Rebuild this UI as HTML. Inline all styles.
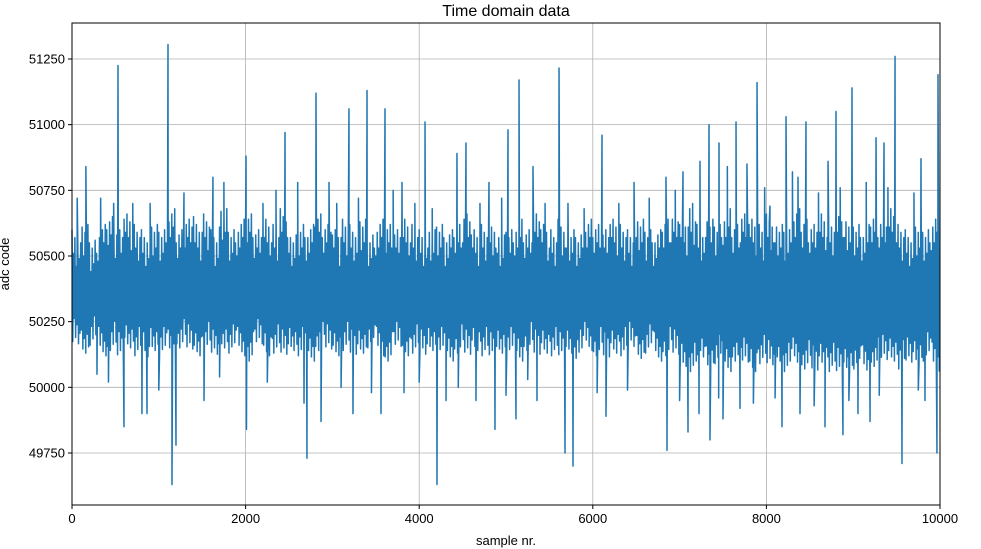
<!DOCTYPE html>
<html><head><meta charset="utf-8">
<style>
body{margin:0;background:#fff;}
svg{display:block;font-family:"Liberation Sans","DejaVu Sans",sans-serif;}
</style></head>
<body>
<svg id="chart" width="981" height="549">
<text x="506" y="16" text-anchor="middle" font-size="16">Time domain data</text>
<g id="grid"></g>
<g id="plot"></g>
<rect x="72" y="23" width="868" height="482" fill="none" stroke="#000" stroke-width="1"/>
<g id="axes"></g>
<text x="506" y="545" text-anchor="middle" font-size="13">sample nr.</text>
<text transform="translate(9,264) rotate(-90)" text-anchor="middle" font-size="13">adc code</text>
</svg>
<script>
const xTicks = [0, 2000, 4000, 6000, 8000, 10000];
const yTicks = [49750, 50000, 50250, 50500, 50750, 51000, 51250];
const binSize = 100;
const baseHigh = [50600,50640,50580,50620,50650,50600,50660,50620,50600,50640,
 50620,50680,50600,50640,50620,50660,50600,50700,50620,50640,
 50660,50600,50640,50620,50680,50600,50640,50620,50660,50620,
 50600,50640,50620,50660,50600,50640,50620,50600,50640,50620,
 50600,50620,50640,50600,50620,50660,50600,50620,50640,50600,
 50620,50640,50600,50660,50620,50600,50640,50620,50600,50640,
 50620,50600,50640,50620,50600,50660,50620,50600,50640,50660,
 50640,50680,50620,50660,50640,50680,50620,50660,50640,50620,
 50660,50640,50620,50680,50640,50620,50660,50640,50680,50660,
 50640,50620,50660,50640,50680,50620,50600,50640,50620,50660];
const baseLow = [50150,50130,50160,50120,50140,50100,50150,50120,50100,50140,
 50120,50110,50150,50130,50120,50140,50110,50150,50130,50120,
 50100,50150,50120,50130,50110,50140,50120,50100,50140,50130,
 50120,50140,50110,50130,50150,50120,50100,50140,50120,50130,
 50110,50140,50120,50100,50130,50110,50140,50120,50100,50130,
 50120,50100,50140,50110,50130,50120,50100,50130,50110,50140,
 50120,50100,50130,50120,50140,50110,50130,50100,50120,50110,
 50080,50060,50100,50070,50090,50060,50100,50080,50060,50090,
 50070,50100,50060,50080,50070,50050,50080,50060,50040,50060,
 50070,50050,50080,50090,50100,50070,50080,50090,50100,50060];
const swingOffsets = [0, 90, 30, 140, 50, 110, 20, 70];
const spikeIdx = [530,1106,1290,1624,2005,2454,2811,2961,3191,3399,3606,3802,4067,4435,4539,4804,5023,5150,5311,5611,5714,6106,6475,6843,7039,7235,7339,7454,7650,7776,7892,8041,8226,8364,8456,8710,8802,8986,9263,9355,9482,9781,9977,
 288,599,806,864,1152,1198,1521,2010,2673,2707,2869,3237,3560,3825,4205,4309,4654,4873,5115,5357,5680,5772,6152,6855,7097,7224,7350,7500,7696,8180,8387,8675,8882,9055,9194,9562,9827,9965,
 60,160,330,480,700,900,1400,1750,2200,2350,2600,3050,3300,3700,3950,4150,4700,4950,5450,5900,6300,6650,6950,7150,7550,7980,8300,8600,8850,9150,9400,9700,
 420,1000,1700,2250,3100,3450,4000,4450,5000,5250,6050,6400,7000,7450,7850,8100,8550,8950,9300,9750];
const spikeVal = [51225,51305,50740,50800,50880,50970,51120,50780,51060,51130,51060,50780,51010,50890,50930,50780,50980,51170,50840,51215,50700,50960,50780,50800,50820,50860,51000,50930,51010,50850,51160,50690,51030,50800,51010,50860,51050,51140,50950,50930,51260,50870,51190,
 50050,49850,49900,49900,49630,49780,49950,49840,49940,49730,49870,49900,49900,49980,49630,49950,49950,49840,49880,49950,49750,49700,49890,49760,49830,49900,49800,49880,49920,49850,49900,49850,49820,49900,49870,49710,49950,49750,
 50720,50840,50720,50700,50700,50700,50650,50780,50700,50750,50780,50700,50720,50750,50700,50680,50700,50720,50700,50680,50700,50720,50750,50700,50840,50760,50820,50740,50760,50780,50760,50740,
 50020,49990,50040,50020,50000,49980,50020,50000,49970,50030,49980,49990,49950,49960,49940,49960,49930,49950,49970,49990];

const NS='http://www.w3.org/2000/svg';
const X0=72,X1=940,Y0=23,Y1=505,YMIN=49552,YMAX=51387;
const sx=v=>X0+(v/10000)*(X1-X0);
const sy=v=>Y1-(v-YMIN)/(YMAX-YMIN)*(Y1-Y0);
const grid=document.getElementById('grid'),axes=document.getElementById('axes'),plot=document.getElementById('plot');
function mk(tag,attrs,parent){const e=document.createElementNS(NS,tag);for(const k in attrs)e.setAttribute(k,attrs[k]);parent.appendChild(e);return e;}
xTicks.forEach(t=>{
  const gl=mk('line',{x1:sx(t),x2:sx(t),y1:Y0,y2:Y1,stroke:'#b0b0b0','stroke-width':0.8},grid);
  
  
  const tk=mk('line',{x1:sx(t),x2:sx(t),y1:Y1,y2:Y1+4,stroke:'#000'},axes);
  
  
  const tx=mk('text',{x:sx(t),y:Y1+18,'text-anchor':'middle','font-size':13},axes);
  tx.textContent=t;
  
  
});
yTicks.forEach(t=>{
  const gl=mk('line',{x1:X0,x2:X1,y1:sy(t),y2:sy(t),stroke:'#b0b0b0','stroke-width':0.8},grid);
  
  
  const tk=mk('line',{x1:X0-4,x2:X0,y1:sy(t),y2:sy(t),stroke:'#000'},axes);
  
  
  const tx=mk('text',{x:X0-7,y:sy(t)+4.5,'text-anchor':'end','font-size':13},axes);
  tx.textContent=t;
  
  
});
const pts=[];
baseHigh.forEach((h,b)=>{
  const l=baseLow[b];
  const swings=6;
  for(let k=0;k<swings;k++){
    const i=b*binSize+k*binSize/swings;
    pts.push([i,h-swingOffsets[(b+k)%swingOffsets.length]]);
    pts.push([i+binSize/swings/2,l+swingOffsets[(b*3+k+2)%swingOffsets.length]*0.8]);
  }
});
spikeIdx.forEach((i,j)=>pts.push([i,spikeVal[j]]));
pts.sort((a,b)=>a[0]-b[0]);
const d=pts.map((p,i)=>(i?'L':'M')+sx(p[0]).toFixed(2)+','+sy(p[1]).toFixed(2)).join('');
const path=mk('path',{d:d,fill:'none',stroke:'#1f77b4','stroke-width':1.5,'stroke-linejoin':'round'},plot);


</script>
</body></html>
